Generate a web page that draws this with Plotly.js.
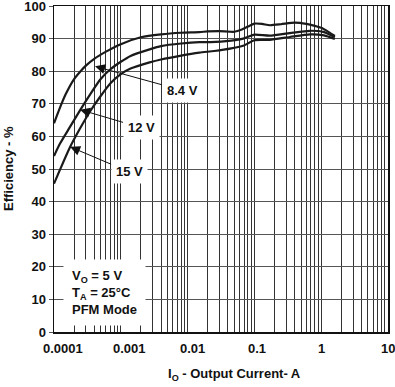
<!DOCTYPE html>
<html>
<head>
<meta charset="utf-8">
<script src="https://cdn.plot.ly/plotly-3.0.1.min.js"></script>
<style>html,body{margin:0;padding:0;background:#fff}#chart{width:395px;height:387px}</style>
</head>
<body>
<div id="chart"></div>
<script>
// Output current (A) and efficiency (%) for each input voltage
const x84 = [0.0001, 0.00012, 0.00015, 0.0002, 0.00025, 0.0003, 0.0004, 0.0006, 0.001, 0.002, 0.004, 0.008, 0.015, 0.02, 0.03, 0.05, 0.065, 0.08, 0.1, 0.13, 0.17, 0.25, 0.4, 0.6, 0.8, 1.0, 1.3, 1.6];
const y84 = [64.0, 68.3, 73.0, 77.6, 80.0, 81.7, 83.8, 86.0, 88.3, 90.4, 91.3, 91.8, 92.0, 92.2, 92.3, 92.1, 92.8, 93.7, 94.6, 94.5, 94.1, 94.4, 94.9, 94.5, 93.9, 93.3, 92.0, 90.8];

const x12 = [0.0001, 0.000123, 0.00017, 0.000245, 0.00035, 0.0005, 0.0007, 0.001, 0.0014, 0.0027, 0.004, 0.008, 0.015, 0.022, 0.045, 0.068, 0.1, 0.17, 0.34, 0.68, 1.1, 1.6];
const y12 = [54.0, 57.8, 62.6, 68.0, 73.0, 77.6, 80.6, 82.9, 84.7, 86.7, 87.7, 88.5, 88.9, 88.9, 89.4, 90.0, 91.2, 90.9, 91.7, 92.4, 92.0, 90.4];

const x15 = [0.0001, 0.000123, 0.00017, 0.000245, 0.00035, 0.0005, 0.0007, 0.001, 0.0014, 0.0027, 0.004, 0.008, 0.015, 0.025, 0.045, 0.07, 0.1, 0.17, 0.34, 0.68, 1.1, 1.6];
const y15 = [45.5, 49.8, 56.3, 62.4, 67.8, 72.4, 76.3, 79.1, 80.8, 82.7, 83.6, 84.8, 85.7, 86.2, 87.0, 87.9, 89.5, 89.6, 90.5, 91.3, 91.0, 89.9];

const seriesNames = ['8.4 V', '12 V', '15 V'];
const tickVals = [0.0001, 0.001, 0.01, 0.1, 1, 10];
const tickText = ['0.0001', '0.001', '0.01', '0.1', '1', '10'];
const yTicks = [0, 10, 20, 30, 40, 50, 60, 70, 80, 90, 100];

// label nudges (pixels) for x tick labels, as in the reference
const xLabelShift = [9, 9, 5, 3, 0, 0];

const minorVals = [];
for (let e = -4; e < 1; e++) {
  for (let d = 2; d <= 9; d++) minorVals.push(d * Math.pow(10, e));
}

const FONT = 'Liberation Sans, Arial, sans-serif';
const lineStyle = {color: '#1a1a1a', width: 2.2, shape: 'spline', smoothing: 0.6};

const traces = [
  {x: x84, y: y84, name: seriesNames[0], mode: 'lines', line: lineStyle},
  {x: x12, y: y12, name: seriesNames[1], mode: 'lines', line: lineStyle},
  {x: x15, y: y15, name: seriesNames[2], mode: 'lines', line: lineStyle}
];

const labelFont = {family: FONT, size: 13, color: '#111', weight: 'bold'};
function arrowLabel(text, x, y, ax, ay) {
  return {
    x: Math.log10(x), y: y, xref: 'x', yref: 'y', text: text,
    showarrow: true, ax: ax, ay: ay, arrowhead: 2, arrowsize: 2, arrowwidth: 1,
    arrowcolor: '#111', bgcolor: '#fff', borderpad: 4, font: labelFont
  };
}

const annotations = [
  arrowLabel(seriesNames[0], 0.000411, 81.5, 87, 24),
  arrowLabel(seriesNames[1], 0.000245, 68.2, 61, 18),
  arrowLabel(seriesNames[2], 0.000174, 56.8, 59, 25),
  {
    xref: 'paper', yref: 'paper', x: 0.028, y: 0.225, xanchor: 'left', yanchor: 'top',
    text: 'V<sub>O</sub> = 5 V<br>T<sub>A</sub> = 25°C<br>PFM Mode', align: 'left',
    showarrow: false, bgcolor: '#fff', borderpad: 8, font: labelFont
  },
  {
    xref: 'paper', yref: 'paper', x: (234 - 54) / 334, y: -0.13, xanchor: 'center', yanchor: 'middle',
    text: 'I<sub>O</sub> - Output Current- A', showarrow: false, font: labelFont
  },
  {
    xref: 'paper', yref: 'paper', x: -46 / 334, y: 0.5, xanchor: 'center', yanchor: 'middle',
    text: 'Efficiency - %', textangle: -90, showarrow: false, font: labelFont
  }
];
tickVals.forEach((v, i) => {
  annotations.push({
    x: Math.log10(v), xref: 'x', y: 0, yref: 'paper', yanchor: 'top', xanchor: 'center',
    yshift: -7, xshift: xLabelShift[i], text: tickText[i], showarrow: false, font: labelFont
  });
});

const layout = {
  width: 395, height: 387,
  margin: {l: 54, r: 7, t: 6, b: 55},
  paper_bgcolor: '#fff', plot_bgcolor: '#fff',
  showlegend: false,
  font: {family: FONT, size: 13, color: '#111'},
  xaxis: {
    type: 'log', range: [-4, 1],
    tickmode: 'array', tickvals: tickVals, ticktext: tickText, showticklabels: false,
    showgrid: true, gridcolor: '#333', gridwidth: 1,
    minor: {tickmode: 'array', tickvals: minorVals, showgrid: true, gridcolor: '#333', gridwidth: 1, ticks: ''},
    showline: true, linecolor: '#111', linewidth: 1.5, mirror: true,
    ticks: '', zeroline: false
  },
  yaxis: {
    range: [0, 100], tickmode: 'array', tickvals: yTicks,
    tickfont: {family: FONT, size: 13, color: '#111', weight: 'bold'},
    ticklabeloverflow: 'allow',
    showgrid: true, gridcolor: '#555', gridwidth: 1,
    showline: true, linecolor: '#111', linewidth: 1.5, mirror: true,
    ticks: 'outside', ticklen: 4, tickcolor: '#555', zeroline: false
  },
  annotations: annotations
};

Plotly.newPlot('chart', traces, layout, {displayModeBar: false, staticPlot: true});
</script>
</body>
</html>
